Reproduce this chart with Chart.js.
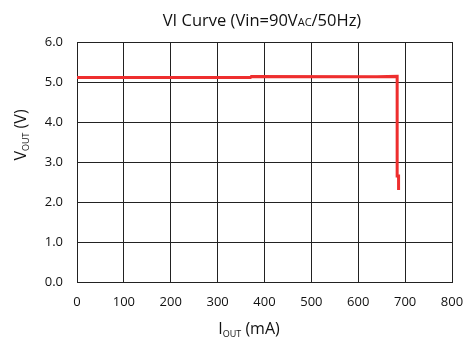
<!DOCTYPE html>
<html>
<head>
<meta charset="utf-8">
<script src="https://cdn.jsdelivr.net/npm/chart.js@4"></script>
<style>
    html, body { margin: 0; padding: 0; background: #fff; }
    #wrap { width: 470px; height: 337px; }
</style>
</head>
<body>
<div id="wrap"><canvas id="VI_CHART" width="470" height="337"></canvas></div>
<script>
// values
const currentMA = [0, 370, 372, 640, 683, 683, 686, 686];
const voltageV  = [5.11, 5.11, 5.14, 5.13, 5.14, 2.65, 2.65, 2.30];
const xTicks = [0, 100, 200, 300, 400, 500, 600, 700, 800];
const yTicks = [0.0, 1.0, 2.0, 3.0, 4.0, 5.0, 6.0];

const FONT = '"Open Sans", "DejaVu Sans", sans-serif';

// draws text pieces in a row, some smaller/shifted (subscripts)
function drawParts(ctx, parts, x, y, align){
    let total = 0;
    parts.forEach(p => {
        ctx.font = `${p.size}px ${FONT}`;
        p.w = ctx.measureText(p.text).width;
        total += p.w;
    });
    let cx = align == 'center' ? x - total / 2 : x;
    parts.forEach(p => {
        ctx.font = `${p.size}px ${FONT}`;
        ctx.fillText(p.text, cx, y + (p.dy || 0));
        cx += p.w;
    });
}

const labelsPlugin = {
    id: 'labels',
    afterDraw(chart){
        const ctx = chart.ctx;
        ctx.save();
        ctx.fillStyle = '#111';
        ctx.textAlign = 'left';
        ctx.textBaseline = 'alphabetic';

        //title
        drawParts(ctx, [
            {text: 'VI Curve (Vin=90V', size: 16.5},
            {text: 'AC', size: 11},
            {text: '/50Hz)', size: 16.5}
        ], 262, 26, 'center');

        //x axis title
        drawParts(ctx, [
            {text: 'I', size: 16},
            {text: 'OUT', size: 9, dy: 3},
            {text: ' (mA)', size: 16}
        ], 249, 334, 'center');

        //y axis title
        ctx.translate(26, 135);
        ctx.rotate(-Math.PI / 2);
        drawParts(ctx, [
            {text: 'V', size: 16},
            {text: 'OUT', size: 9, dy: 3},
            {text: ' (V)', size: 16}
        ], 0, 0, 'center');
        ctx.restore();
    }
};

let ctx = document.getElementById('VI_CHART');

let myChart = new Chart(ctx, {
    type: 'scatter',
    data: {
        datasets: [{
            data: currentMA.map((c, i) => ({x: c, y: voltageV[i]})),
            showLine: true,
            borderColor: '#ee2e2e',
            borderWidth: 3,
            pointRadius: 0,
            tension: 0
        }]
    },
    options: {
        responsive: false,
        animation: false,
        layout: {
            padding: {top: 42, right: 18, left: 0, bottom: 0}
        },
        plugins: {
            legend: { display: false },
            tooltip: { enabled: false }
        },
        scales: {
            x: {
                type: 'linear',
                min: 0,
                max: 800,
                afterBuildTicks: axis => { axis.ticks = xTicks.map(v => ({value: v})); },
                afterFit: axis => {
                    axis.height = 55;
                    axis.paddingLeft = 0;
                    axis.paddingRight = 0;
                },
                grid: { color: '#222', lineWidth: 1, drawTicks: false },
                border: { color: '#222', width: 1 },
                ticks: {
                    color: '#111',
                    padding: 12,
                    maxRotation: 0,
                    font: { family: FONT, size: 13 }
                }
            },
            y: {
                type: 'linear',
                min: 0,
                max: 6,
                afterBuildTicks: axis => { axis.ticks = yTicks.map(v => ({value: v})); },
                afterFit: axis => {
                    axis.width = 77;
                    axis.paddingTop = 0;
                    axis.paddingBottom = 0;
                },
                grid: { color: '#222', lineWidth: 1, drawTicks: false },
                border: { color: '#222', width: 1 },
                ticks: {
                    color: '#111',
                    padding: 14,
                    font: { family: FONT, size: 13 },
                    callback: v => Number(v).toFixed(1)
                }
            }
        }
    },
    plugins: [labelsPlugin]
});
</script>
</body>
</html>
